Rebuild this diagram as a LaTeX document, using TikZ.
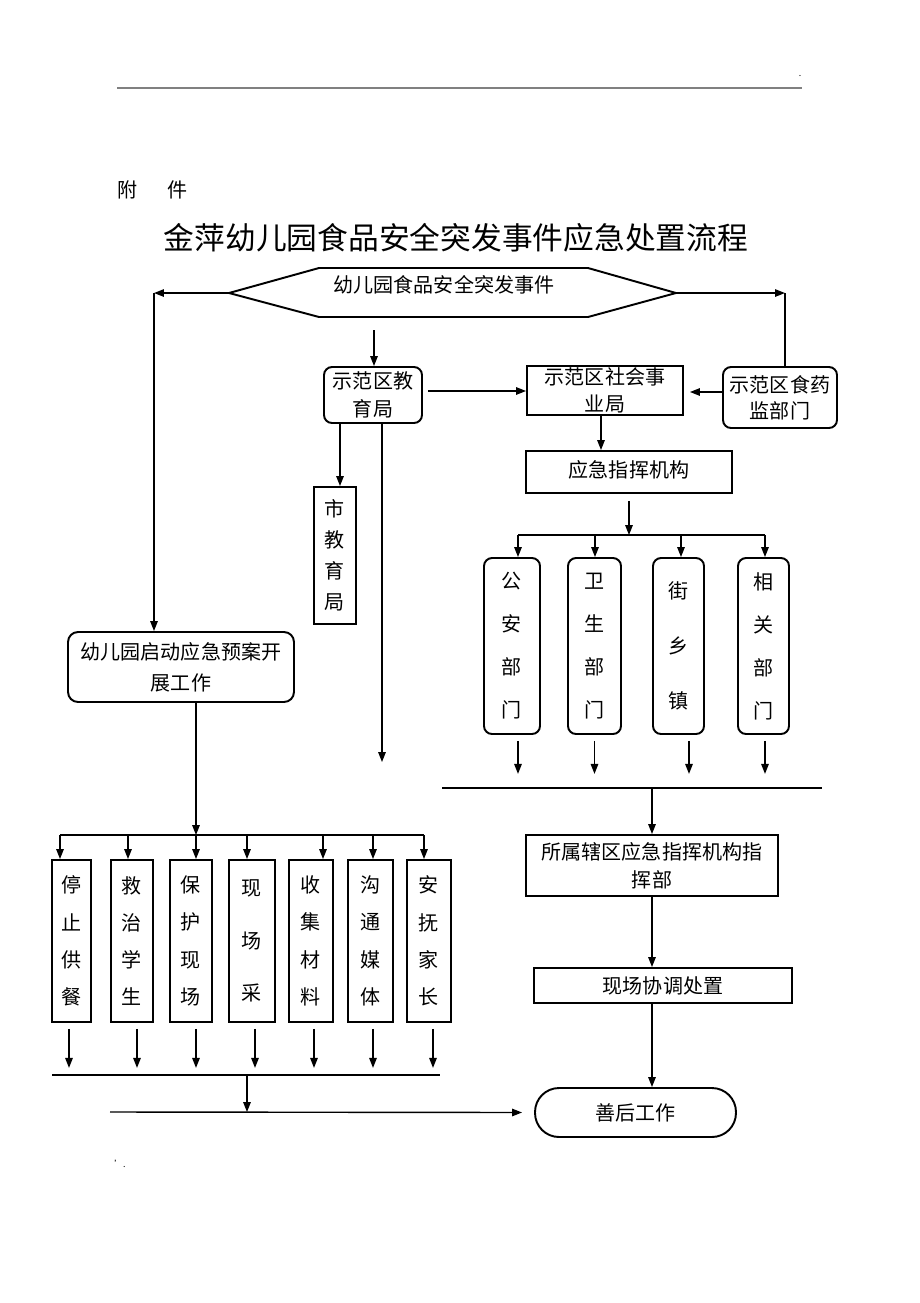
\documentclass[tikz,border=0pt]{standalone}
\usepackage{fontspec}
\setmainfont{Noto Sans CJK SC}
\usetikzlibrary{arrows.meta}
\begin{document}
\begin{tikzpicture}[x=0.02cm,y=-0.02cm,
        every node/.style={font=\fontsize{11.4pt}{13pt}\selectfont},
        lsp/.style={font=\fontsize{11.4pt}{#1}\selectfont},
        box/.style={draw,line width=1.1pt,inner sep=0pt,align=center},
        rbox/.style={box,rounded corners=0.16cm},
        arr/.style={thick,-{Triangle[length=0.2cm,width=0.15cm]}}]
        \useasboundingbox (0,0) rectangle (920,1303);
        \draw[gray,line width=1.2pt] (117,88) -- (802,88);
        \node (dot) at (800,76) {\fontsize{5pt}{5pt}\selectfont .};
        \node (mark) at (120,1164) {\fontsize{5pt}{5pt}\selectfont '.};
        \node (annex) at (153,190) {附\hspace{0.6cm}件};
        \node[font=\fontsize{17.5pt}{20pt}\selectfont] (title) at (456,238) {金萍幼儿园食品安全突发事件应急处置流程};
        % event
        \coordinate (hexL) at (229,293);
        \coordinate (hexR) at (676,293);
        \draw[line width=1.1pt] (hexL) -- (319,268) -- (588,268) -- (hexR) -- (588,317) -- (319,317) -- cycle;
        \node (hex) at (444,285) {幼儿园食品安全突发事件};
        % departments
        \node[rbox,minimum width=1.96cm,minimum height=1.12cm,lsp=0.56cm] (edu) at (373,395) {示范区教\\育局};
        \node[box,minimum width=3.12cm,minimum height=0.98cm,lsp=0.54cm] (soc) at (605,390.5) {示范区社会事\\业局};
        \node[rbox,minimum width=2.28cm,minimum height=1.22cm,lsp=0.52cm] (fda) at (780,397.5) {示范区食药\\监部门};
        \node[box,minimum width=4.12cm,minimum height=0.84cm] (cmd) at (629,472) {\raisebox{0.14cm}{应急指挥机构}};
        \node[box,minimum width=0.84cm,minimum height=2.74cm,lsp=0.62cm] (city) at (335,555.5) {市\\教\\育\\局};
        \node[rbox,minimum width=1.12cm,minimum height=3.52cm,lsp=0.86cm] (ga) at (512,646) {公\\安\\部\\门};
        \node[rbox,minimum width=1.06cm,minimum height=3.52cm,lsp=0.86cm] (ws) at (594.5,646) {卫\\生\\部\\门};
        \node[rbox,minimum width=1.02cm,minimum height=3.52cm,lsp=1.1cm] (jx) at (678.5,646) {街\\乡\\镇};
        \node[rbox,minimum width=1.02cm,minimum height=3.52cm,lsp=0.86cm] (xg) at (763.5,646) {相\\关\\部\\门};
        \node[box,minimum width=5.04cm,minimum height=1.22cm,lsp=0.56cm] (sub) at (652,865.5) {所属辖区应急指挥机构指\\挥部};
        \node[box,minimum width=5.16cm,minimum height=0.7cm] (site) at (663,985.5) {现场协调处置};
        \node[box,rounded corners=0.48cm,minimum width=4.02cm,minimum height=0.98cm] (fin) at (635.5,1112.5) {善后工作};
        % kindergarten
        \node[rbox,rounded corners=0.2cm,minimum width=4.52cm,minimum height=1.4cm,lsp=0.62cm] (start) at (181,667) {幼儿园启动应急预案开\\展工作};
        \node[box,minimum width=0.78cm,minimum height=3.24cm,lsp=0.746cm] (s1) at (71.5,941) {停\\止\\供\\餐};
        \node[box,minimum width=0.84cm,minimum height=3.24cm,lsp=0.746cm] (s2) at (132,941) {救\\治\\学\\生};
        \node[box,minimum width=0.84cm,minimum height=3.24cm,lsp=0.746cm] (s3) at (191,941) {保\\护\\现\\场};
        \node[box,minimum width=0.92cm,minimum height=3.24cm,lsp=1.05cm] (s4) at (252,941) {现\\场\\采};
        \node[box,minimum width=0.88cm,minimum height=3.24cm,lsp=0.746cm] (s5) at (311,941) {收\\集\\材\\料};
        \node[box,minimum width=0.9cm,minimum height=3.24cm,lsp=0.746cm] (s6) at (370.5,941) {沟\\通\\媒\\体};
        \node[box,minimum width=0.88cm,minimum height=3.24cm,lsp=0.746cm] (s7) at (429,941) {安\\抚\\家\\长};
        % top connectors
        \coordinate (lt) at (154,293);
        \coordinate (rt) at (785,293);
        \coordinate (hexb) at (374,330);
        \coordinate (eduend) at (382,762);
        \draw[arr] (hexL) -- (lt);
        \draw[arr] (lt) -- (lt |- start.north);
        \draw[arr] (hexR) -- (rt);
        \draw[thick] (fda.north -| rt) -- (rt);
        \draw[arr] (hexb) -- (hexb |- edu.north);
        \draw[arr,shorten <=0.1cm] ([yshift=0.08cm]edu.east) -- ([yshift=0.08cm]edu.east -| soc.west);
        \draw[arr,shorten >=0.12cm] ([yshift=0.11cm]fda.west) -- ([yshift=0.11cm]fda.west -| soc.east);
        \draw[arr] ([xshift=-0.08cm]soc.south) -- ([xshift=-0.08cm]soc.south |- cmd.north);
        \draw[arr] ([xshift=0.1cm]city.north |- edu.south) -- ([xshift=0.1cm]city.north);
        \draw[arr] (edu.south -| eduend) -- (eduend);
        % right branch
        \coordinate (rt1) at (518,535);
        \coordinate (rt2) at (595,535);
        \coordinate (rt3) at (681,535);
        \coordinate (rt4) at (765,535);
        \draw[arr] ([yshift=-0.14cm]cmd.south) -- (cmd.south |- rt1);
        \draw[thick] (rt1) -- (rt4);
        \draw[arr] (rt1) -- (rt1 |- ga.north);
        \draw[arr] (rt2) -- (rt2 |- ws.north);
        \draw[arr] (rt3) -- (rt3 |- jx.north);
        \draw[arr] (rt4) -- (rt4 |- xg.north);
        \draw[arr] ([xshift=0.12cm,yshift=-0.12cm]ga.south) -- ++(0,33);
        \draw[arr] ([yshift=-0.12cm]ws.south) -- ++(0,33);
        \draw[arr] ([xshift=0.21cm,yshift=-0.12cm]jx.south) -- ++(0,33);
        \draw[arr] ([xshift=0.03cm,yshift=-0.12cm]xg.south) -- ++(0,33);
        \coordinate (rb1) at (442,788);
        \coordinate (rb2) at (822,788);
        \draw[thick] (rb1) -- (rb2);
        \draw[arr] (sub.north |- rb1) -- (sub.north);
        \draw[arr] (sub.south) -- (sub.south |- site.north);
        \draw[arr] (site.south -| sub.south) -- (sub.south |- fin.north);
        % left branch
        \coordinate (lb1) at (60,835);
        \coordinate (lb2) at (128,835);
        \coordinate (lb3) at (196,835);
        \coordinate (lb4) at (247,835);
        \coordinate (lb5) at (323,835);
        \coordinate (lb6) at (373,835);
        \coordinate (lb7) at (424,835);
        \draw[arr] (start.south -| lb3) -- (lb3);
        \draw[thick] (lb1) -- (lb7);
        \draw[arr] (lb1) -- (lb1 |- s1.north);
        \draw[arr] (lb2) -- (lb2 |- s2.north);
        \draw[arr] (lb3) -- (lb3 |- s3.north);
        \draw[arr] (lb4) -- (lb4 |- s4.north);
        \draw[arr] (lb5) -- (lb5 |- s5.north);
        \draw[arr] (lb6) -- (lb6 |- s6.north);
        \draw[arr] (lb7) -- (lb7 |- s7.north);
        \draw[arr] ([xshift=-0.05cm,yshift=-0.12cm]s1.south) -- ++(0,39);
        \draw[arr] ([xshift=0.1cm,yshift=-0.12cm]s2.south) -- ++(0,39);
        \draw[arr] ([xshift=0.1cm,yshift=-0.12cm]s3.south) -- ++(0,39);
        \draw[arr] ([xshift=0.06cm,yshift=-0.12cm]s4.south) -- ++(0,39);
        \draw[arr] ([xshift=0.06cm,yshift=-0.12cm]s5.south) -- ++(0,39);
        \draw[arr] ([xshift=0.05cm,yshift=-0.12cm]s6.south) -- ++(0,39);
        \draw[arr] ([xshift=0.08cm,yshift=-0.12cm]s7.south) -- ++(0,39);
        \coordinate (bl1) at (52,1075);
        \coordinate (bl2) at (440,1075);
        \coordinate (bm) at (247,1075);
        \coordinate (fl) at (110,1112);
        \draw[thick] (bl1) -- (bl2);
        \draw[arr] (bm) -- (bm |- fl);
        \draw[arr,shorten >=0.24cm] (fl) -- (fin.west);
\end{tikzpicture}
\end{document}
